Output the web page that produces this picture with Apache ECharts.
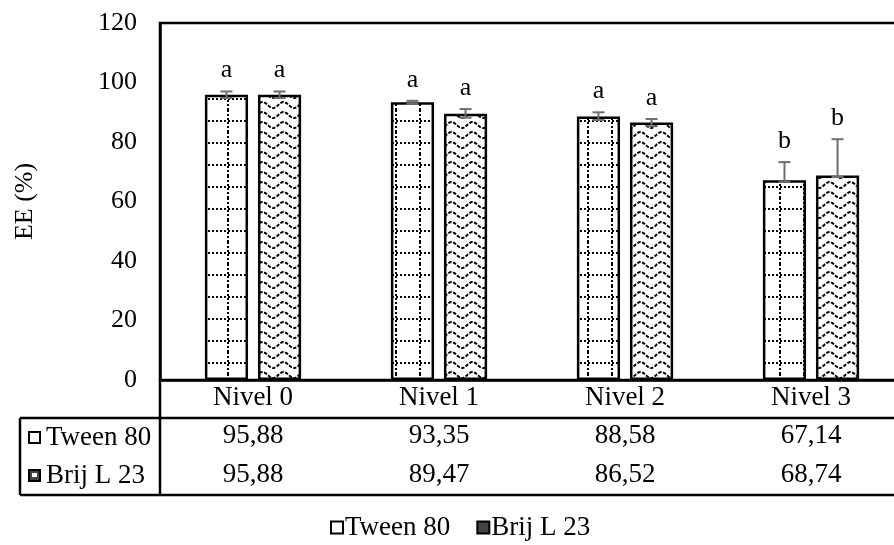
<!DOCTYPE html>
<html>
<head>
<meta charset="utf-8">
<script src="https://cdn.jsdelivr.net/npm/echarts@6/dist/echarts.min.js"></script>
<style>
html,body{margin:0;padding:0;background:#fff;}
#c{width:894px;height:545px;}
</style>
</head>
<body>
<div id="c"></div>
<script>
// ---- data ----
const categories = ['Nivel 0', 'Nivel 1', 'Nivel 2', 'Nivel 3'];
const seriesNames = ['Tween 80', 'Brij L 23'];
const tween = [95.88, 93.35, 88.58, 67.14];
const brij = [95.88, 89.47, 86.52, 68.74];
const tweenErrPlus = [1.1, 0.5, 1.4, 6.1];
const tweenErrMinus = [1.1, 0.5, 1.2, 0.5];
const brijErrPlus = [1.1, 1.6, 1.2, 12.2];
const brijErrMinus = [1.1, 1.3, 1.2, 0.5];
const tweenLetters = ['a', 'a', 'a', 'b'];
const brijLetters = ['a', 'a', 'a', 'b'];
const yTicks = [0, 20, 40, 60, 80, 100, 120];

// ---- styling ----
const FONT = 'Liberation Serif';
const FS = 26;   // axis labels, letters
const FT = 27;   // table, legend
const BAR_FRAC = 0.232;   // bar width as fraction of category band
const GAP_FRAC = 0.23;    // gap between bars as fraction of bar width
const fmt = v => v.toFixed(2).replace('.', ',');

function gridPattern() {
  const c = document.createElement('canvas');
  c.width = 24; c.height = 22;
  const g = c.getContext('2d');
  g.fillStyle = '#fff'; g.fillRect(0, 0, 24, 22);
  g.fillStyle = '#000';
  for (let x = 0; x < 24; x += 4) g.fillRect(x, 10, 2, 2);
  for (let y = 0; y < 22; y += 4) g.fillRect(11, y, 2, 2);
  return c;
}
function wavePattern() {
  const c = document.createElement('canvas');
  c.width = 21; c.height = 10;
  const g = c.getContext('2d');
  g.fillStyle = '#fff'; g.fillRect(0, 0, 21, 10);
  g.strokeStyle = '#000'; g.lineWidth = 2;
  g.setLineDash([3.5, 1.5]);
  g.beginPath();
  for (let x = -1; x <= 22; x += 0.5) {
    const y = 5 + 3 * Math.cos((x / 21) * 2 * Math.PI);
    if (x === -1) g.moveTo(x, y); else g.lineTo(x, y);
  }
  g.stroke();
  return c;
}
const tweenFill = { image: gridPattern(), repeat: 'repeat' };
const brijFill = { image: wavePattern(), repeat: 'repeat' };

function errSeries(values, plus, minus, letters, sign) {
  return {
    type: 'custom',
    z: 5,
    data: values.map((v, i) => [i, v - minus[i], v + plus[i], letters[i]]),
    encode: { x: 0, y: [1, 2] },
    renderItem: function (params, api) {
      const idx = api.value(0);
      const lo = api.value(1), hi = api.value(2);
      const band = api.size([1, 0])[0];
      const w = band * BAR_FRAC;
      const off = sign * (w + w * GAP_FRAC) / 2;
      const pHi = api.coord([idx, hi]);
      const pLo = api.coord([idx, lo]);
      const x = pHi[0] + off;
      const cap = 6;
      const st = { stroke: '#6e6e6e', lineWidth: 2 };
      return {
        type: 'group',
        children: [
          { type: 'line', shape: { x1: x, y1: pLo[1], x2: x, y2: pHi[1] }, style: st },
          { type: 'line', shape: { x1: x - cap, y1: pHi[1], x2: x + cap, y2: pHi[1] }, style: st },
          { type: 'line', shape: { x1: x - cap, y1: pLo[1], x2: x + cap, y2: pLo[1] }, style: st },
          { type: 'text', x: x, y: pHi[1] - 21,
            style: { text: letters[idx], fill: '#000', font: FS + 'px ' + FONT, align: 'center', verticalAlign: 'middle' } }
        ]
      };
    }
  };
}

const chart = echarts.init(document.getElementById('c'), null, { renderer: 'canvas' });
chart.setOption({
  animation: false,
  backgroundColor: '#fff',
  textStyle: { fontFamily: FONT },
  grid: {
    left: 160, top: 23, width: 744, height: 357,
    show: true, borderColor: '#000', borderWidth: 2.5, backgroundColor: 'transparent',
    outerBoundsMode: 'none'
  },
  legend: {
    top: 509,
    left: 325,
    icon: 'rect',
    itemWidth: 12, itemHeight: 12, itemGap: 26,
    textStyle: { fontSize: FT, color: '#000', fontFamily: FONT, padding: [0, 0, 0, -3] },
    data: [
      { name: seriesNames[0], itemStyle: { color: '#fff', borderColor: '#000', borderWidth: 2 } },
      { name: seriesNames[1], itemStyle: { color: '#444', borderColor: '#000', borderWidth: 2 } }
    ]
  },
  xAxis: {
    type: 'category',
    data: categories,
    axisLine: { show: true, lineStyle: { color: '#000', width: 2.5 } },
    axisTick: { show: false },
    axisLabel: {
      margin: 0,
      interval: 0,
      color: '#000',
      formatter: function (value, i) {
        return '{c|' + value + '}\n{v1|' + fmt(tween[i]) + '}\n{v2|' + fmt(brij[i]) + '}';
      },
      rich: {
        c: { fontSize: FT, fontFamily: FONT, color: '#000', lineHeight: 36 },
        v1: { fontSize: FT, fontFamily: FONT, color: '#000', lineHeight: 40 },
        v2: { fontSize: FT, fontFamily: FONT, color: '#000', lineHeight: 38 }
      }
    }
  },
  yAxis: {
    type: 'value',
    min: yTicks[0], max: yTicks[yTicks.length - 1], interval: 20,
    axisLine: { show: true, lineStyle: { color: '#000', width: 2.5 } },
    axisTick: { show: false },
    splitLine: { show: false },
    axisLabel: { margin: 23, fontSize: FS, color: '#000', fontFamily: FONT },
    name: 'EE (%)',
    nameLocation: 'middle',
    nameGap: 122,
    nameTextStyle: { fontSize: FS, color: '#000', fontFamily: FONT }
  },
  series: [
    {
      name: seriesNames[0], type: 'bar', data: tween,
      barWidth: (BAR_FRAC * 100) + '%', barGap: (GAP_FRAC * 100) + '%',
      itemStyle: { color: tweenFill, borderColor: '#000', borderWidth: 2.5 }
    },
    {
      name: seriesNames[1], type: 'bar', data: brij,
      barWidth: (BAR_FRAC * 100) + '%', barGap: (GAP_FRAC * 100) + '%',
      itemStyle: { color: brijFill, borderColor: '#000', borderWidth: 2.5 }
    },
    errSeries(tween, tweenErrPlus, tweenErrMinus, tweenLetters, -1),
    errSeries(brij, brijErrPlus, brijErrMinus, brijLetters, 1)
  ],
  graphic: [
    { type: 'line', shape: { x1: 20, y1: 418, x2: 894, y2: 418 }, style: { stroke: '#000', lineWidth: 2.5 } },
    { type: 'line', shape: { x1: 20, y1: 495, x2: 894, y2: 495 }, style: { stroke: '#000', lineWidth: 2.5 } },
    { type: 'line', shape: { x1: 20, y1: 418, x2: 20, y2: 495 }, style: { stroke: '#000', lineWidth: 2.5 } },
    { type: 'line', shape: { x1: 160, y1: 380, x2: 160, y2: 495 }, style: { stroke: '#000', lineWidth: 2.5 } },
    { type: 'rect', shape: { x: 29, y: 432, width: 11, height: 11 }, style: { fill: '#fff', stroke: '#000', lineWidth: 2 } },
    { type: 'text', x: 46, y: 438, style: { text: seriesNames[0], font: FT + 'px ' + FONT, fill: '#000', verticalAlign: 'middle' } },
    { type: 'rect', shape: { x: 29, y: 470, width: 11, height: 11 }, style: { fill: '#444', stroke: '#000', lineWidth: 2 } },
    { type: 'rect', shape: { x: 32, y: 473, width: 5, height: 4 }, style: { fill: '#fff' } },
    { type: 'text', x: 46, y: 476, style: { text: seriesNames[1], font: FT + 'px ' + FONT, fill: '#000', verticalAlign: 'middle' } }
  ]
});
</script>
</body>
</html>
